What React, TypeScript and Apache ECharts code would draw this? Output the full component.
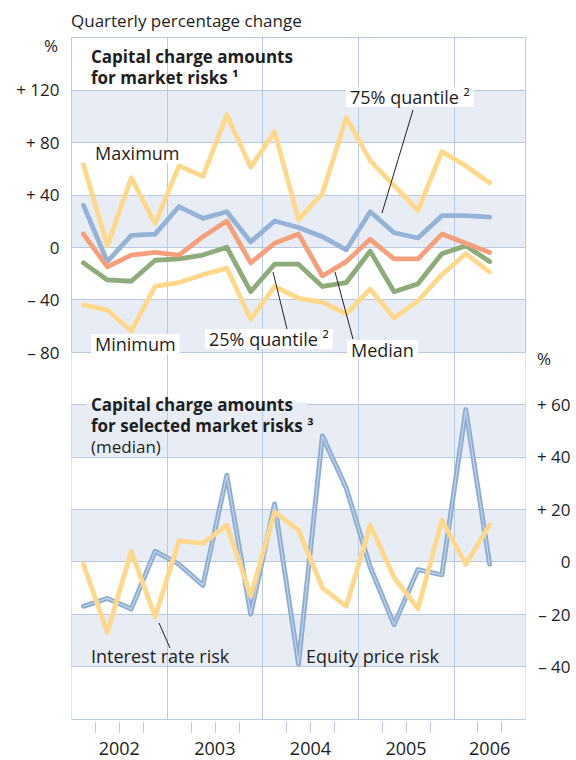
import React, { useEffect, useRef } from "react";
import * as echarts from "echarts";

// ---- data ----
const quarters = [
  "2002 Q1", "2002 Q2", "2002 Q3", "2002 Q4",
  "2003 Q1", "2003 Q2", "2003 Q3", "2003 Q4",
  "2004 Q1", "2004 Q2", "2004 Q3", "2004 Q4",
  "2005 Q1", "2005 Q2", "2005 Q3", "2005 Q4",
  "2006 Q1", "2006 Q2",
];
const years = ["2002", "2003", "2004", "2005", "2006"];
const quartersPerYear = [4, 4, 4, 4, 3];

// Capital charge amounts for market risks (quarterly % change)
const maximum = [63, 1, 53, 18, 62, 54, 101, 61, 88, 21, 41, 99, 66, 47, 28, 73, 62, 49];
const quantile75 = [32, -11, 9, 10, 31, 22, 27, 4, 20, 15, 8, -2, 27, 11, 7, 24, 24, 23];
const median = [10, -15, -6, -4, -6, 8, 20, -12, 3, 10, -22, -11, 6, -9, -9, 10, 3, -4];
const quantile25 = [-12, -25, -26, -10, -9, -6, 0, -34, -13, -13, -30, -27, -3, -34, -28, -5, 1, -11];
const minimum = [-44, -48, -64, -30, -27, -21, -16, -55, -30, -39, -42, -51, -32, -54, -41, -21, -5, -19];

// Capital charge amounts for selected market risks (median)
const interestRateRisk = [-1, -27, 4, -21, 8, 7, 14, -13, 19, 12, -10, -17, 14, -6, -18, 16, -1, 14];
const equityPriceRisk = [-17, -14, -18, 4, -1, -9, 33, -20, 22, -39, 48, 28, -2, -24, -3, -5, 58, -1];

// axis scales
const topAxis = { min: -80, max: 160, interval: 40 };
const bottomAxis = { min: -60, max: 80, interval: 20 };

// ---- styling ----
const FONT = "'Open Sans', 'Noto Sans', sans-serif";
const TEXT = "#1e1e1e";
const GRID = "#b9c9e2";
const SHADE = "#e8edf5";
const YELLOW = "#ffd98b";
const BLUE = "#95b3d6";
const ORANGE = "#f5a07c";
const GREEN = "#8eab7a";

const totalSlots = quartersPerYear.reduce((a, b) => a + b, 0);
const yearStarts: number[] = [];
const yearCenters: number[] = [];
{
  let s = 0;
  quartersPerYear.forEach((n) => {
    yearStarts.push(s);
    yearCenters.push(s + n / 2);
    s += n;
  });
}
const yearTicks = yearStarts.slice(1);
const quarterTicks: number[] = [];
for (let i = 1; i < totalSlots; i++) if (!yearTicks.includes(i)) quarterTicks.push(i);

const pts = (arr: number[]) => quarters.map((_, i) => [i + 0.5, arr[i]]);
const fmt = (v: number) => (v > 0 ? `+ ${v}` : v < 0 ? `– ${-v}` : "0");

const lineSeries = (name: string, data: number[], color: string, xi: number, yi: number, z = 2, width = 4.8) => ({
  name,
  type: "line",
  xAxisIndex: xi,
  yAxisIndex: yi,
  data: pts(data),
  symbol: "none",
  z,
  silent: true,
  lineStyle: { color, width, join: "round", cap: "round" },
});

export default function App() {
  const ref = useRef<HTMLDivElement>(null);
  useEffect(() => {
    if (!ref.current) return;
    const chart = echarts.init(ref.current, undefined, { renderer: "svg" });
    const label = (text: string, x: number, y: number, opts: any = {}) => ({
      type: "text",
      x,
      y,
      z: 100,
      style: {
        text,
        font: `${opts.weight || "normal"} ${opts.size || 18}px ${FONT}`,
        fill: TEXT,
        align: opts.align || "left",
        verticalAlign: "middle",
        backgroundColor: opts.bg,
        padding: opts.bg ? [1, 4, 1, 4] : undefined,
      },
    });
    const leader = (x1: number, y1: number, x2: number, y2: number) => ({
      type: "line",
      z: 99,
      shape: { x1, y1, x2, y2 },
      style: { stroke: "#222", lineWidth: 1 },
    });
    const equity = lineSeries("Equity price risk", equityPriceRisk, "#8eadd2", 1, 1, 2, 5);
    const equityCore = lineSeries("Equity price risk (core)", equityPriceRisk, "#c3d4e9", 1, 1, 2, 1.2);
    const option: any = {
      animation: false,
      textStyle: { fontFamily: FONT },
      grid: [
        { left: 71.5, top: 37.5, width: 454, height: 314.5, show: true, borderColor: GRID, borderWidth: 1, backgroundColor: "transparent" },
        { left: 71.5, top: 352, width: 454, height: 367, show: true, borderColor: GRID, borderWidth: 1, backgroundColor: "transparent" },
      ],
      xAxis: [
        {
          gridIndex: 0, type: "value", min: 0, max: totalSlots, interval: 4,
          axisLine: { show: false }, axisTick: { show: false }, axisLabel: { show: false },
          splitLine: { show: true, lineStyle: { color: GRID, width: 1 } },
        },
        {
          gridIndex: 1, type: "value", min: 0, max: totalSlots, interval: 4, position: "bottom",
          axisLine: { show: false },
          axisTick: { show: true, customValues: yearTicks, length: 45, lineStyle: { color: GRID, width: 1 } },
          axisLabel: {
            show: true, customValues: yearCenters, margin: 20, fontSize: 18, color: TEXT, fontFamily: FONT,
            formatter: (v: number) => {
              const k = yearCenters.indexOf(v);
              return k >= 0 ? years[k] : "";
            },
          },
          splitLine: { show: true, lineStyle: { color: GRID, width: 1 } },
        },
        {
          gridIndex: 1, type: "value", min: 0, max: totalSlots, position: "bottom", offset: 3,
          axisLine: { show: false },
          axisTick: { show: true, customValues: quarterTicks, length: 11, lineStyle: { color: GRID, width: 1 } },
          axisLabel: { show: false },
          splitLine: { show: false },
        },
      ],
      yAxis: [
        {
          gridIndex: 0, type: "value", ...topAxis, position: "left",
          axisLine: { show: false }, axisTick: { show: false },
          axisLabel: {
            formatter: (v: number) => (v === topAxis.max ? "" : fmt(v)),
            margin: 12, fontSize: 17, color: TEXT, fontFamily: FONT,
          },
          splitLine: { show: true, lineStyle: { color: GRID, width: 1 } },
          splitArea: { show: true, areaStyle: { color: [SHADE, "#ffffff"] } },
        },
        {
          gridIndex: 1, type: "value", ...bottomAxis, position: "right",
          axisLine: { show: false }, axisTick: { show: false },
          axisLabel: {
            formatter: (v: number) => (v === bottomAxis.max || v === bottomAxis.min ? "" : fmt(v)),
            align: "right", margin: 45, fontSize: 17, color: TEXT, fontFamily: FONT,
          },
          splitLine: { show: true, lineStyle: { color: GRID, width: 1 } },
          splitArea: { show: true, areaStyle: { color: ["#ffffff", SHADE] } },
        },
      ],
      series: [
        lineSeries("Minimum", minimum, YELLOW, 0, 0, 2),
        lineSeries("Maximum", maximum, YELLOW, 0, 0, 2),
        lineSeries("25% quantile", quantile25, GREEN, 0, 0, 3),
        lineSeries("75% quantile", quantile75, BLUE, 0, 0, 3),
        lineSeries("Median", median, ORANGE, 0, 0, 4),
        equity,
        equityCore,
        lineSeries("Interest rate risk", interestRateRisk, YELLOW, 1, 1, 3),
      ],
      graphic: [
        label("Quarterly percentage change", 71, 20, { size: 17 }),
        label("%", 58, 45, { size: 17, align: "right" }),
        label("%", 537, 358, { size: 17 }),
        label("Capital charge amounts", 91, 56, { size: 17, weight: "bold" }),
        label("for market risks ¹", 91, 77, { size: 17, weight: "bold" }),
        label("Maximum", 91, 153, { bg: "#ffffff" }),
        label("75% quantile ²", 346, 97, { bg: "#ffffff" }),
        label("Minimum", 91, 344, { bg: "#ffffff" }),
        label("25% quantile ²", 205, 339, { bg: "#ffffff" }),
        label("Median", 347, 350, { bg: "#ffffff" }),
        { type: "rect", z: 98, shape: { x: 86, y: 402.5, width: 221, height: 3 }, style: { fill: SHADE } },
        label("Capital charge amounts", 91, 404, { size: 17, weight: "bold" }),
        label("for selected market risks ³", 91, 425, { size: 17, weight: "bold" }),
        label("(median)", 91, 446, { size: 17 }),
        label("Interest rate risk", 91, 656, {}),
        label("Equity price risk", 306, 656, {}),
        leader(413, 110, 382, 213),
        leader(273, 272, 287, 329),
        leader(335, 272, 353, 339),
        leader(159, 623, 170, 648),
      ],
    };
    chart.setOption(option);
    return () => chart.dispose();
  }, []);
  return (
    <div
      ref={ref}
      style={{ position: "fixed", left: 0, top: 0, width: 576, height: 760, background: "#ffffff" }}
    />
  );
}
